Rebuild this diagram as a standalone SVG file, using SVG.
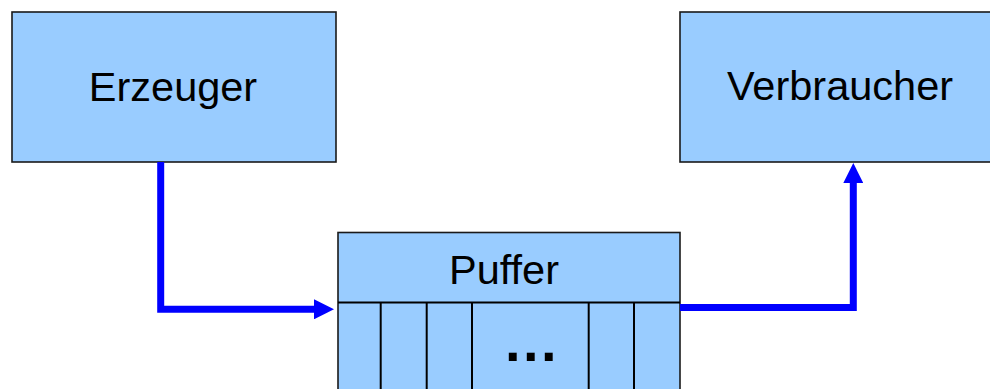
<svg xmlns="http://www.w3.org/2000/svg" width="990" height="389" viewBox="0 0 990 389">
  <style>
    .box { fill: #99CCFF; stroke: #1a1a1a; stroke-width: 1.6; }
    .div { stroke: #000; stroke-width: 2; fill: none; }
    .lbl { font-family: "Liberation Sans", Arial, sans-serif; font-size: 41.5px; fill: #000; text-anchor: middle; }
    .dots { font-weight: bold; font-size: 56px; letter-spacing: 2.5px; }
    .flow { stroke: #0000FF; stroke-width: 7; fill: none; stroke-linejoin: miter; }
  </style>
  <defs>
    <marker id="head" markerUnits="userSpaceOnUse" markerWidth="20" markerHeight="20" viewBox="0 0 20 20" refX="0" refY="10" orient="auto">
      <path d="M0,0 L20,10 L0,20 z" fill="#0000FF"/>
    </marker>
  </defs>

  <g id="erzeuger">
    <rect class="box" x="12" y="12" width="324" height="150"/>
    <text class="lbl" x="173" y="101">Erzeuger</text>
  </g>

  <g id="verbraucher">
    <rect class="box" x="680" y="12" width="324" height="150"/>
    <text class="lbl" x="840" y="100">Verbraucher</text>
  </g>

  <g id="puffer">
    <rect class="box" x="338" y="232.5" width="342" height="170"/>
    <line class="div" x1="338" y1="302.5" x2="680" y2="302.5"/>
    <line class="div" x1="380.7" y1="302.5" x2="380.7" y2="395"/>
    <line class="div" x1="426.7" y1="302.5" x2="426.7" y2="395"/>
    <line class="div" x1="472" y1="302.5" x2="472" y2="395"/>
    <line class="div" x1="588.7" y1="302.5" x2="588.7" y2="395"/>
    <line class="div" x1="634" y1="302.5" x2="634" y2="395"/>
    <text class="lbl" x="504" y="284">Puffer</text>
    <text class="lbl dots" x="532" y="361">...</text>
  </g>

  <g id="connectors">
    <path class="flow" d="M160.7,162 V309.3 H314" marker-end="url(#head)"/>
    <path class="flow" d="M680,307.5 H853.3 V183" marker-end="url(#head)"/>
  </g>
</svg>
